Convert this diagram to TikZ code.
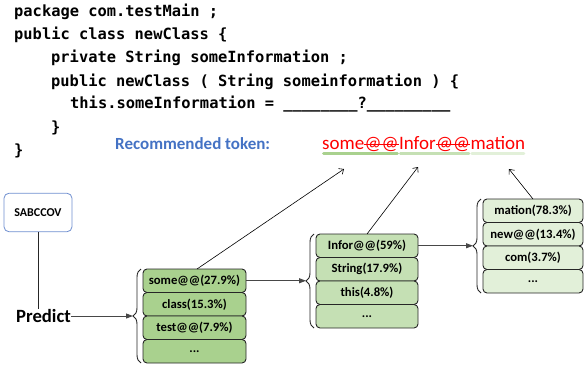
\documentclass[tikz,border=0pt]{standalone}
\usepackage{fontspec}
\setmainfont{Carlito}
\newfontfamily\codefont{DejaVu Sans Mono}
\usetikzlibrary{decorations.pathreplacing,arrows.meta,positioning,calc}
\definecolor{gA}{HTML}{A9D18E}
\definecolor{gB}{HTML}{C5E0B4}
\definecolor{gC}{HTML}{E2F0D9}
\definecolor{blueT}{HTML}{4472C4}
\definecolor{boxblue}{HTML}{6F8FD0}
\definecolor{edge}{HTML}{262626}
\begin{document}
\begin{tikzpicture}[x=1pt,y=-1pt,
  code/.style={anchor=base west,inner sep=0,font=\codefont\bfseries\fontsize{15.4}{18}\selectfont},
  tok/.style={anchor=base west,inner sep=0,text=red,font=\fontsize{19}{22}\selectfont},
  uline/.style={line width=3pt,line cap=round},
  cell/.style={draw=edge,line width=0.9pt,rounded corners=4pt,minimum height=23.5pt,inner sep=0,outer sep=0,font=\bfseries\fontsize{12.7}{14}\selectfont},
  cellA/.style={cell,fill=gA,minimum width=103pt},
  cellB/.style={cell,fill=gB,minimum width=102pt},
  cellC/.style={cell,fill=gC,minimum width=100pt},
  brc/.style={draw=edge,line width=0.9pt,decorate,decoration={brace,amplitude=8pt}},
  harrow/.style={draw=edge!85!white,line width=0.9pt,-{Triangle[length=7pt,width=5pt]}},
  tarrow/.style={draw=black,line width=0.6pt,-{Straight Barb[length=4pt,width=7pt]}}
]
\useasboundingbox (0,0) rectangle (584,369);

% code
\node[code] (l1) at (14,17) {package com.testMain ;};
\node[code] (l2) at (14,40) {public class newClass \{};
\node[code] (l3) at (51,63) {private String someInformation ;};
\node[code] (l4) at (51,86) {public newClass ( String someinformation ) \{};
\node[code] (l5) at (70,109) {this.someInformation = \_\_\_\_\_\_\_\_?\_\_\_\_\_\_\_\_\_};
\node[code] (l6) at (51,132) {\}};
\node[code] (l7) at (14,155) {\}};

% recommended token
\node[anchor=base west,inner sep=0,text=blueT,font=\bfseries\fontsize{17}{20}\selectfont] (rec) at (115,149) {Recommended token:};
\node[tok] (s1) at (322,149) {some};
\node[tok] (s2) at (s1.base east) {@@};
\node[tok] (s3) at (s2.base east) {Infor};
\node[tok] (s4) at (s3.base east) {@@};
\node[tok] (s5) at (s4.base east) {mation};
\draw[red,line width=0.8pt] ([yshift=5pt]s2.base west) -- ([yshift=5pt]s2.base east);
\draw[red,line width=0.8pt] ([yshift=5pt]s4.base west) -- ([yshift=5pt]s4.base east);
\draw[uline,gA] ([xshift=1.5pt,yshift=-4.5pt]s1.base west) -- ([xshift=-1.5pt,yshift=-4.5pt]s2.base east);
\draw[uline,gB] ([xshift=1.5pt,yshift=-4.5pt]s3.base west) -- ([xshift=-1.5pt,yshift=-4.5pt]s4.base east);
\draw[uline,gC] ([xshift=1.5pt,yshift=-4.5pt]s5.base west) -- ([xshift=-1.5pt,yshift=-4.5pt]s5.base east);

% SABCCOV and Predict
\node[draw=boxblue,line width=0.8pt,rounded corners=5pt,minimum width=68pt,minimum height=38.5pt,font=\bfseries\fontsize{12}{14}\selectfont] (sab) at (38,212.5) {SABCCOV};
\node[inner sep=0,font=\bfseries\fontsize{18.7}{22}\selectfont] (pred) at (43.5,316) {Predict};
\draw[edge,line width=0.9pt] (sab.south) -- (sab.south |- pred.north);

% column 1
\node[cellA] (a1) at (194.5,280.75) {some@@(27.9\%)};
\node[cellA,below=0pt of a1] (a2) {class(15.3\%)};
\node[cellA,below=0pt of a2] (a3) {test@@(7.9\%)};
\node[cellA,below=0pt of a3] (a4) {...};
% column 2
\node[cellB] (b1) at (367,245.75) {Infor@@(59\%)};
\node[cellB,below=0pt of b1] (b2) {String(17.9\%)};
\node[cellB,below=0pt of b2] (b3) {this(4.8\%)};
\node[cellB,below=0pt of b3] (b4) {...};
% column 3
\node[cellC] (c1) at (533,210.75) {mation(78.3\%)};
\node[cellC,below=0pt of c1] (c2) {new@@(13.4\%)};
\node[cellC,below=0pt of c2] (c3) {com(3.7\%)};
\node[cellC,below=0pt of c3] (c4) {...};

% braces
\draw[brc] ([xshift=-2pt]a4.south west) -- ([xshift=-2pt]a1.north west);
\draw[brc] ([xshift=-2pt]b4.south west) -- ([xshift=-2pt]b1.north west);
\draw[brc] ([xshift=-2pt]c4.south west) -- ([xshift=-2pt]c1.north west);
\coordinate (ta) at ($(a1.north west)!0.5!(a4.south west)+(-10,0)$);
\coordinate (tb) at ($(b1.north west)!0.5!(b4.south west)+(-10,0)$);
\coordinate (tc) at ($(c1.north west)!0.5!(c4.south west)+(-10,0)$);

\draw[harrow] (pred.east) -- (ta);
\draw[harrow] (a1.east) -- (a1.east -| tb);
\draw[harrow] (b1.east) -- (b1.east -| tc);

% arrows to tokens
\coordinate (pA) at (344,169);
\coordinate (pB) at (418,167);
\coordinate (pC) at (509,169);
\draw[tarrow] ([xshift=2.5pt]a1.north) -- (pA);
\draw[tarrow] (b1.north) -- (pB);
\draw[tarrow] (c1.north) -- (pC);
\end{tikzpicture}
\end{document}
